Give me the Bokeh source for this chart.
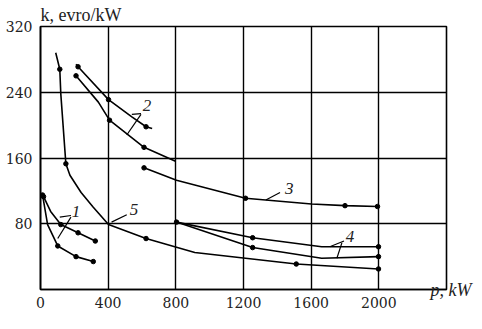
from bokeh.plotting import figure
from bokeh.models import Range1d, FixedTicker, Title, LinearAxis, AllLabels
from bokeh.embed import file_html
from bokeh.resources import INLINE
from bokeh.core.properties import value

# ---- data ----
x_ticks = [0, 400, 800, 1200, 1600, 2000]
y_ticks = [80, 160, 240, 320]

c1a_x = [18, 60, 120, 222, 324]
c1a_y = [113, 95, 79, 69, 59]
c1a_m = [0, 2, 3, 4]

c1b_x = [12, 42, 102, 210, 312]
c1b_y = [115, 79, 53, 40, 34]
c1b_m = [0, 2, 3, 4]

c5_x = [90, 114, 120, 150, 174, 240, 312, 402, 624, 912, 1212, 1512, 1998]
c5_y = [288, 268, 238, 153, 139, 118, 100, 79, 62, 45, 38, 31, 25]
c5_m = [1, 3, 8, 11, 12]

c2a_x = [210, 222, 402, 540, 624, 660]
c2a_y = [274, 271, 231, 210, 198, 196]
c2a_m = [1, 2, 4]

c2b_x = [210, 342, 408, 612, 798]
c2b_y = [260, 228, 206, 173, 156]
c2b_m = [0, 2, 3]

c3_x = [612, 804, 1212, 1602, 1800, 1992]
c3_y = [148, 133, 111, 104, 102, 101]
c3_m = [0, 2, 4, 5]

c4a_x = [804, 1254, 1662, 1998]
c4a_y = [82, 63, 52, 52]
c4a_m = [0, 1, 3]

c4b_x = [804, 1254, 1662, 1998]
c4b_y = [82, 51, 38, 40]
c4b_m = [1, 3]

# curve number labels and leader lines
lab_text = ["1", "5", "2", "3", "4"]
lab_x = [210, 552, 630, 1470, 1830]
lab_y = [95, 97, 224, 123, 65]

lead_x0 = [114, 102, 420, 540, 510, 1332, 1710, 1752]
lead_y0 = [88, 62, 82, 213, 188, 109, 52, 38]
lead_x1 = [180, 180, 510, 594, 594, 1416, 1794, 1782]
lead_y1 = [90, 88, 91, 214, 213, 118, 59, 57]

y_title = "k, evro/kW"
x_title = "p, kW"

FONT = "Liberation Serif"
TICK_FONT = "DejaVu Serif"

p = figure(width=474, height=313, output_backend="svg", toolbar_location=None,
           x_range=Range1d(0, 2400), y_range=Range1d(0, 320),
           min_border_left=40, min_border_right=0, min_border_top=0,
           min_border_bottom=24)
p.background_fill_color = "white"
p.border_fill_color = "white"
p.outline_line_color = "black"
p.outline_line_width = 1.6

# top-left axis title
p.add_layout(Title(text=y_title, align="left", offset=0, standoff=4,
                   text_font=FONT, text_font_size="18px",
                   text_font_style="normal", text_color="#222222"), "above")

# x axis title placed as a right-side axis label at the bottom of the frame
rax = LinearAxis(ticker=FixedTicker(ticks=[0]), major_label_overrides={0: x_title})
rax.axis_line_color = None
rax.major_tick_line_color = None
rax.minor_tick_line_color = None
rax.major_label_standoff = -22
rax.major_label_text_font = FONT
rax.major_label_text_font_size = "18px"
rax.major_label_text_color = "#222222"
rax.major_label_text_font_style = "italic"
p.add_layout(rax, "right")

p.xaxis[0].ticker = FixedTicker(ticks=x_ticks)
p.yaxis[0].ticker = FixedTicker(ticks=y_ticks)
for ax in (p.xaxis[0], p.yaxis[0]):
    ax.axis_line_color = "black"
    ax.axis_line_width = 1.6
    ax.major_tick_in = 0
    ax.major_tick_out = 0
    ax.minor_tick_in = 0
    ax.minor_tick_out = 0
    ax.major_label_text_font = TICK_FONT
    ax.major_label_text_font_size = "14px"
    ax.major_label_text_color = "#222222"
    ax.major_label_policy = AllLabels()
p.xaxis[0].major_label_standoff = 7
p.yaxis[0].major_label_standoff = 8

for g in (p.xgrid, p.ygrid):
    g.grid_line_color = "black"
    g.grid_line_width = 1.4

series = [(c1a_x, c1a_y, c1a_m), (c1b_x, c1b_y, c1b_m), (c5_x, c5_y, c5_m),
          (c2a_x, c2a_y, c2a_m), (c2b_x, c2b_y, c2b_m), (c3_x, c3_y, c3_m),
          (c4a_x, c4a_y, c4a_m), (c4b_x, c4b_y, c4b_m)]
for xs, ys, ms in series:
    p.line(xs, ys, line_color="black", line_width=1.6)
    p.scatter([xs[i] for i in ms], [ys[i] for i in ms], size=4.5,
              fill_color="black", line_color="black")

p.segment(lead_x0, lead_y0, lead_x1, lead_y1, line_color="black", line_width=1.2)
p.text(lab_x, lab_y, text=lab_text, text_font=value(FONT), text_font_style="italic",
       text_font_size="17px", text_align="center", text_baseline="middle",
       text_color="#222222")

open("out.html", "w").write(file_html(p, INLINE))
